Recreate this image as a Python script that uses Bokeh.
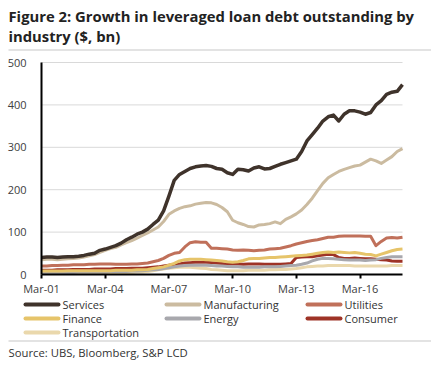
import pandas as pd
from bokeh.plotting import figure
from bokeh.models import Range1d, FixedTicker, Label, BoxAnnotation
from bokeh.embed import file_html
from bokeh.resources import INLINE

# Quarterly observations, Mar-01 .. Mar-18 ($ bn)
quarters = pd.date_range("2001-03-01", periods=69, freq="3MS")

services = [40, 41, 41, 40, 41, 42, 42, 43, 45, 48, 50, 57, 60, 64, 68, 74,
            82, 88, 95, 100, 107, 118, 128, 150, 185, 222, 236, 243, 250, 254, 256, 257,
            255, 250, 248, 240, 236, 248, 247, 244, 251, 254, 249, 250, 255, 260, 264, 268,
            272, 290, 315, 330, 345, 362, 372, 376, 362, 378, 386, 386, 383, 378, 382, 400,
            410, 425, 430, 432, 448]
manufacturing = [35, 36, 36, 35, 36, 37, 38, 39, 41, 44, 47, 52, 57, 61, 64, 70,
                 75, 80, 86, 92, 98, 105, 112, 125, 142, 150, 156, 160, 162, 166, 168, 170,
                 169, 165, 158, 148, 128, 122, 118, 113, 112, 117, 118, 120, 124, 120, 130, 136,
                 143, 152, 165, 180, 198, 215, 228, 236, 243, 248, 252, 256, 258, 265, 272, 268,
                 262, 270, 278, 290, 297]
utilities = [20, 20, 21, 21, 22, 22, 23, 23, 23, 24, 24, 25, 25, 25, 24, 24,
             24, 25, 25, 26, 27, 30, 33, 38, 45, 50, 52, 65, 75, 77, 76, 76,
             62, 62, 61, 60, 58, 57, 58, 57, 56, 57, 58, 60, 61, 62, 65, 68,
             72, 75, 78, 80, 82, 85, 88, 88, 90, 91, 91, 91, 91, 90, 90, 68,
             78, 86, 87, 86, 88]
finance = [8, 8, 8, 8, 8, 9, 9, 9, 9, 9, 9, 9, 9, 9, 10, 10,
           10, 10, 11, 11, 12, 14, 16, 18, 22, 26, 32, 35, 36, 36, 36, 35,
           34, 33, 32, 30, 29, 30, 33, 37, 38, 38, 39, 40, 40, 41, 42, 43,
           44, 45, 46, 48, 50, 52, 53, 52, 53, 52, 51, 52, 50, 48, 47, 44,
           48, 52, 56, 59, 60]
energy = [5, 5, 5, 5, 5, 5, 5, 6, 6, 6, 6, 6, 6, 7, 7, 7,
          7, 8, 8, 9, 10, 11, 12, 14, 16, 18, 20, 21, 22, 22, 22, 22,
          21, 20, 20, 19, 18, 18, 17, 17, 17, 17, 18, 18, 18, 19, 20, 21,
          22, 24, 27, 32, 36, 38, 38, 37, 36, 35, 34, 34, 34, 33, 34, 35,
          38, 40, 42, 42, 42]
consumer = [10, 10, 10, 11, 11, 11, 12, 12, 12, 12, 13, 13, 13, 13, 14, 14,
            14, 15, 15, 15, 16, 17, 18, 20, 22, 24, 25, 27, 28, 29, 29, 29,
            28, 27, 26, 25, 25, 25, 24, 25, 25, 25, 24, 24, 24, 24, 25, 26,
            40, 41, 42, 42, 44, 46, 48, 47, 40, 38, 38, 39, 38, 37, 37, 36,
            35, 34, 32, 31, 31]
transportation = [4, 4, 4, 4, 4, 4, 4, 4, 4, 4, 4, 5, 5, 5, 5, 5,
                  5, 5, 6, 6, 7, 9, 11, 13, 15, 16, 17, 17, 17, 16, 15, 14,
                  12, 11, 10, 9, 9, 9, 9, 10, 10, 10, 10, 11, 11, 12, 12, 13,
                  14, 16, 18, 19, 20, 20, 21, 21, 21, 21, 21, 20, 20, 20, 20, 20,
                  20, 20, 21, 21, 21]

series_names = ["Services", "Manufacturing", "Utilities", "Finance", "Energy", "Consumer", "Transportation"]
series_values = [services, manufacturing, utilities, finance, energy, consumer, transportation]
series_colors = ["#3f332b", "#cbbba0", "#c0705a", "#e6c46a", "#a8a8ad", "#9e3326", "#ead8ac"]

x_tick_labels = ["Mar-01", "Mar-04", "Mar-07", "Mar-10", "Mar-13", "Mar-16"]
y_ticks = [0, 100, 200, 300, 400, 500]

title_lines = ["Figure 2: Growth in leveraged loan debt outstanding by", "industry ($, bn)"]
source_text = "Source:  UBS, Bloomberg, S&P LCD"

# ---------- layout constants (canvas pixels) ----------
W, H = 431, 369
PX_L, PX_R, PX_T, PX_B = 41, 402, 62, 274   # chart area
YMAX = y_ticks[-1]

x = list(range(len(quarters)))
qn = len(quarters) - 1
xs = (PX_R - PX_L) / qn
ys = (PX_B - PX_T) / YMAX

qlabels = [q.strftime("%b-%y") for q in quarters]
tick_pos = [qlabels.index(t) for t in x_tick_labels]

p = figure(width=W, height=H,
           x_range=Range1d(-PX_L / xs, qn + (W - PX_R) / xs),
           y_range=Range1d(-(H - PX_B) / ys, YMAX + PX_T / ys),
           output_backend="svg", toolbar_location=None, min_border=0)
p.outline_line_color = None
p.grid.visible = False
p.background_fill_color = "white"
p.border_fill_color = "white"


def sy(py):  # canvas px (from top) -> screen units (up from bottom)
    return H - py


# gridlines limited to the chart area
p.segment(x0=[0] * (len(y_ticks) - 1), x1=[qn] * (len(y_ticks) - 1),
          y0=y_ticks[1:], y1=y_ticks[1:], line_color="#d9d9d9", line_width=1)

# series
for name, vals, col in reversed(list(zip(series_names, series_values, series_colors))):
    lw = 3.5 if name == "Services" else 3
    p.line(x=x, y=vals, line_color=col, line_width=lw, line_join="round")

# axes, fixed at the chart's origin
p.yaxis.fixed_location = 0
p.yaxis.bounds = (0, YMAX)
p.yaxis.ticker = FixedTicker(ticks=y_ticks)
p.yaxis.major_tick_line_color = None
p.yaxis.minor_tick_line_color = None
p.yaxis.axis_line_color = "black"
p.yaxis.axis_line_width = 2
p.yaxis.major_label_standoff = 9

p.xaxis.fixed_location = 0
p.xaxis.bounds = (0, qn)
p.xaxis.ticker = FixedTicker(ticks=tick_pos)
p.xaxis.major_label_overrides = {pos: lab for pos, lab in zip(tick_pos, x_tick_labels)}
p.xaxis.major_tick_in = 0
p.xaxis.major_tick_out = 4
p.xaxis.major_tick_line_width = 2
p.xaxis.major_tick_line_color = "black"
p.xaxis.minor_tick_line_color = None
p.xaxis.axis_line_color = "black"
p.xaxis.axis_line_width = 2
p.xaxis.major_label_standoff = 2

for ax in (p.xaxis, p.yaxis):
    ax.major_label_text_font = "Open Sans"
    ax.major_label_text_font_size = "11px"
    ax.major_label_text_color = "#404040"


def box(left, right, top, bottom, color, radius=0):
    return BoxAnnotation(left=left, right=right, top=sy(top), bottom=sy(bottom),
                         left_units="screen", right_units="screen", top_units="screen",
                         bottom_units="screen", fill_color=color, fill_alpha=1,
                         line_color=None, border_radius=radius, level="overlay",
                         editable=False)


def label(px, py, txt, size="11px", bold=False, baseline="middle"):
    return Label(x=px, y=sy(py), x_units="screen", y_units="screen", text=txt,
                 text_font="Open Sans", text_font_style="bold" if bold else "normal",
                 text_font_size=size, text_color="#222222" if bold else "#333333",
                 text_baseline=baseline, text_align="left")


# ---------- Title ----------
for txt, base in zip(title_lines, [15.5, 35]):
    p.add_layout(label(8, base, txt, size="14.8px", bold=True, baseline="alphabetic"))
p.add_layout(box(8, W, 49, 50, "#c8c8c8"))

# ---------- Legend ----------
col_x = [23, 164, 305]
row_y = [304, 318, 332]
for i, (name, col) in enumerate(zip(series_names, series_colors)):
    c, r = i % 3, i // 3
    x0, yy = col_x[c], row_y[r]
    p.add_layout(box(x0, x0 + 37, yy - 2, yy + 2, col, radius=2))
    p.add_layout(label(x0 + 39, yy, name))

# ---------- Source ----------
p.add_layout(box(8, W, 340, 341, "#c8c8c8"))
p.add_layout(label(8, 352, source_text, size="11.3px"))

open("out.html", "w").write(file_html(p, INLINE))
